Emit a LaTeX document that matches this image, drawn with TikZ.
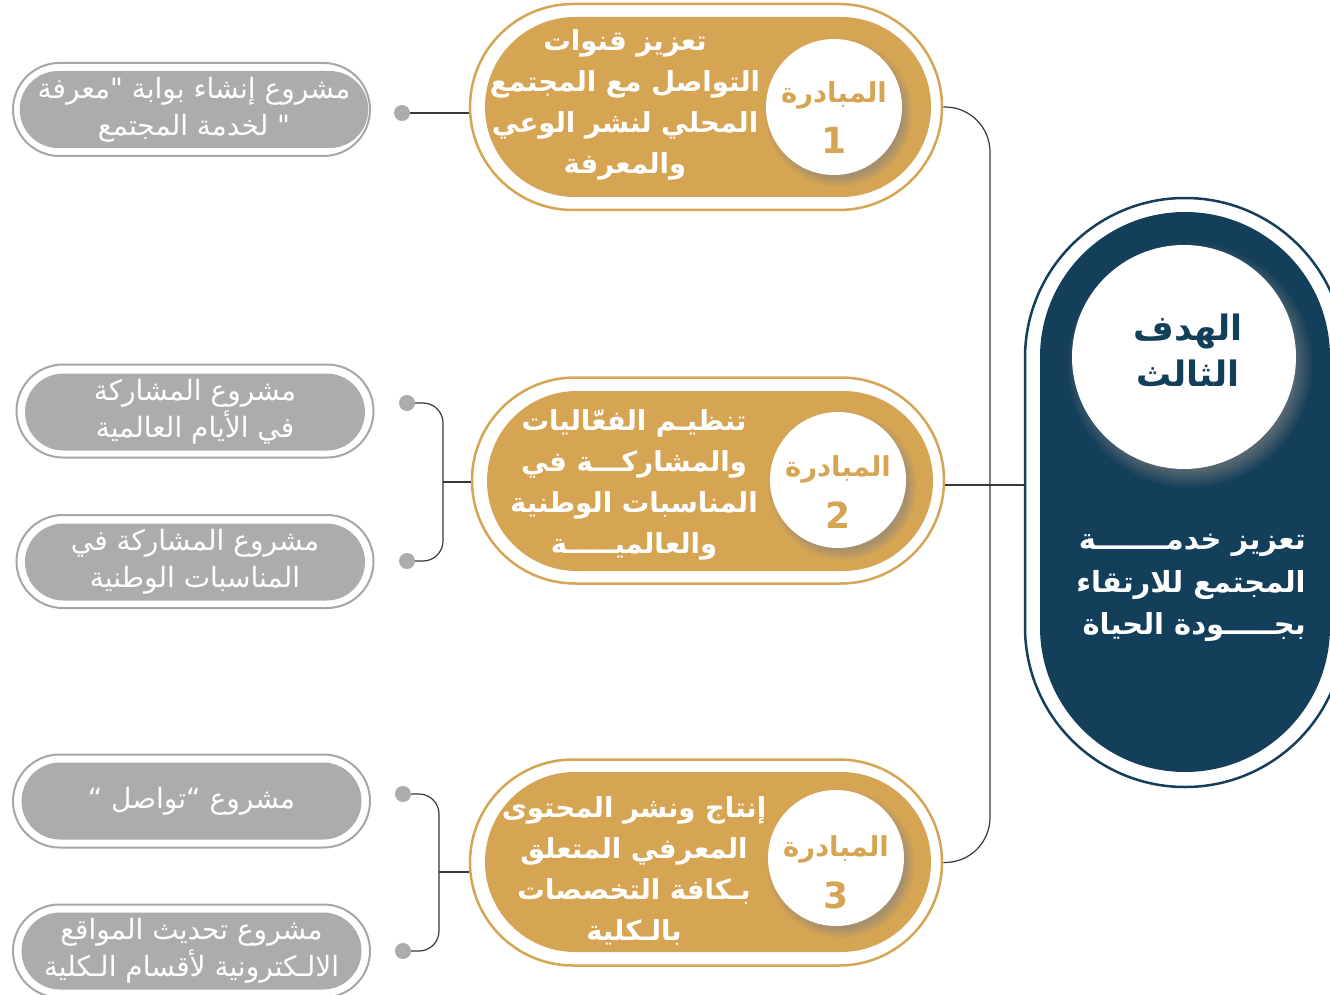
\documentclass[tikz,border=0pt]{standalone}
\usepackage{fontspec}
\usetikzlibrary{shadows,shapes.misc}
\TeXXeTstate=1
\newfontfamily\arabicfont[Script=Arabic]{DejaVu Sans}
\newcommand\ar[1]{\beginR #1\endR}
\definecolor{gold}{HTML}{D6A554}
\definecolor{teal}{HTML}{143F5A}
\definecolor{grayfill}{HTML}{ABACAB}
\definecolor{grayline}{HTML}{A6A6A6}
\definecolor{linec}{HTML}{383838}
\tikzset{
  goldout/.style={rounded rectangle, minimum width=472pt, minimum height=206pt, draw=gold, line width=2.5pt, fill=white, inner sep=0pt},
  goldin/.style={rounded rectangle, minimum width=446pt, minimum height=180pt, fill=gold, inner sep=0pt},
  grayout/.style={rounded rectangle, minimum width=357pt, minimum height=93pt, draw=grayline, line width=2pt, fill=white, inner sep=0pt},
  grayin/.style={rounded rectangle, minimum width=340pt, minimum height=77pt, fill=grayfill, inner sep=0pt, text=white, align=center, font=\arabicfont\fontsize{28}{37}\selectfont},
  dot/.style={circle, fill=grayfill, minimum size=16pt, inner sep=0pt},
  wcircle/.style={circle, fill=white, minimum size=136pt, inner sep=0pt, circular drop shadow={shadow xshift=4pt, shadow yshift=-5pt, opacity=.55}},
  initxt/.style={text=white, align=center, inner sep=0pt, font=\arabicfont\bfseries\fontsize{27.5}{41}\selectfont},
  mubtxt/.style={text=gold, inner sep=0pt, font=\arabicfont\bfseries\fontsize{27.5}{30}\selectfont},
  numtxt/.style={text=gold, inner sep=0pt, font=\arabicfont\bfseries\fontsize{36}{40}\selectfont},
  conn/.style={draw=linec, line width=1.2pt},
}
\begin{document}
\begin{tikzpicture}[x=1pt,y=-1pt]
\useasboundingbox (0,0) rectangle (1330,995);
\clip (0,0) rectangle (1330,995);

% goal
\node[rectangle, rounded corners=159.9pt, minimum width=320pt, minimum height=589pt, draw=teal, line width=2.5pt, fill=white, inner sep=0pt] (go) at (1185,492.5) {};
\node[rectangle, rounded corners=144.9pt, minimum width=290pt, minimum height=560pt, fill=teal, inner sep=0pt] (gi) at (1185,492) {};
\node[circle, fill=white, minimum size=224pt, inner sep=0pt, circular drop shadow={shadow xshift=5pt, shadow yshift=-7pt, opacity=.6}] (gc) at (1184,357) {};
\node[text=teal, align=center, inner sep=0pt, font=\arabicfont\bfseries\fontsize{35}{46}\selectfont] (gct) at (1188,350) {\ar{الهدف}\\\ar{الثالث}};
\node[text=white, align=right, inner sep=0pt, font=\arabicfont\bfseries\fontsize{29}{42.5}\selectfont] (gt) at (1191,588) {\ar{تعزيز خدمـــــــة}\\\ar{المجتمع للارتقاء}\\\ar{بجـــــودة الحياة}};

% initiatives
\node[goldout] (b1o) at (706,107) {};
\node[goldin] (b1) at (708,107) {};
\node[wcircle] (c1) at (834,107) {};
\node[mubtxt] (c1a) at (834,95) {\ar{المبادرة}};
\node[numtxt] (c1b) at (834,140) {1};
\node[initxt] (t1) at (625,105) {\ar{تعزيز قنوات}\\\ar{التواصل مع المجتمع}\\\ar{المحلي لنشر الوعي}\\\ar{والمعرفة}};

\node[goldout] (b2o) at (708,480.5) {};
\node[goldin] (b2) at (710,481) {};
\node[wcircle] (c2) at (838,480) {};
\node[mubtxt] (c2a) at (838,469) {\ar{المبادرة}};
\node[numtxt] (c2b) at (838,515) {2};
\node[initxt] (t2) at (634,485) {\ar{تنظيـم الفعّاليات}\\\ar{والمشاركـــة في}\\\ar{المناسبات الوطنية}\\\ar{والعالميـــــة}};

\node[goldout] (b3o) at (706,862.5) {};
\node[goldin] (b3) at (708,862) {};
\node[wcircle] (c3) at (836,858) {};
\node[mubtxt] (c3a) at (836,849) {\ar{المبادرة}};
\node[numtxt] (c3b) at (836,895) {3};
\node[initxt] (t3) at (634,871) {\ar{إنتاج ونشر المحتوى}\\\ar{المعرفي المتعلق}\\\ar{بـكافة التخصصات}\\\ar{بالـكلية}};

% projects
\node[grayout] (p1o) at (191.5,109.5) {};
\node[grayin] (p1) at (194,109.5) {\ar{مشروع إنشاء بوابة "معرفة}\\\ar{" لخدمة المجتمع}};
\node[grayout] (p2o) at (195,411) {};
\node[grayin] (p2) at (195,412) {\ar{مشروع المشاركة}\\\ar{في الأيام العالمية}};
\node[grayout] (p3o) at (195,561.5) {};
\node[grayin] (p3) at (195,562) {\ar{مشروع المشاركة في}\\\ar{المناسبات الوطنية}};
\node[grayout] (p4o) at (191.5,801) {};
\node[grayin] (p4) at (191.5,801) {\ar{مشروع “تواصل “}};
\node[grayout] (p5o) at (191.5,951) {};
\node[grayin] (p5) at (191.5,951) {\ar{مشروع تحديث المواقع}\\\ar{الالـكترونية لأقسام الـكلية}};

% connectors
\coordinate (j2) at (443,482);
\coordinate (j3) at (439,872);
\coordinate (jm) at (990,485);
\node[dot] (d1) at (402,113) {};
\node[dot] (d2) at (407,403) {};
\node[dot] (d3) at (407,561) {};
\node[dot] (d4) at (403,794) {};
\node[dot] (d5) at (403,951) {};

\draw[conn] (d1.east) -- (d1.east -| b1o.west);
\draw[conn, rounded corners=20pt] (d2.east) -| (j2) |- (d3.east);
\draw[conn] (j2) -- (j2 -| b2o.west);
\draw[conn, rounded corners=20pt] (d4.east) -| (j3) |- (d5.east);
\draw[conn] (j3) -- (j3 -| b3o.west);
\draw[conn, rounded corners=45pt] (b1o.east) -| (jm) |- (b3o.east);
\draw[conn] (b2o.east |- jm) -- (jm -| go.west);
\end{tikzpicture}
\end{document}
